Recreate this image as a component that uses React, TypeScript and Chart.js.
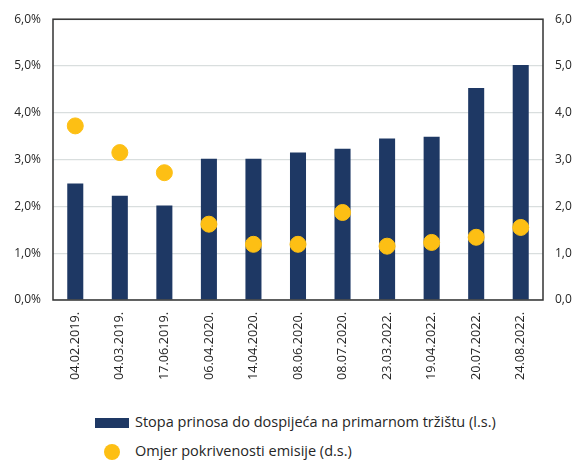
import React, { useEffect, useRef } from "react";
import { Chart, registerables } from "chart.js";

Chart.register(...registerables);

const categories = [
  "04.02.2019.", "04.03.2019.", "17.06.2019.", "06.04.2020.", "14.04.2020.",
  "08.06.2020.", "08.07.2020.", "23.03.2022.", "19.04.2022.", "20.07.2022.", "24.08.2022.",
];
const yieldRate = [2.49, 2.23, 2.02, 3.02, 3.02, 3.15, 3.23, 3.45, 3.49, 4.53, 5.02];
const coverage = [3.72, 3.15, 2.72, 1.62, 1.19, 1.19, 1.87, 1.15, 1.23, 1.34, 1.55];
const barLabel = "Stopa prinosa do dospijeća na primarnom tržištu (l.s.)";
const dotLabel = "Omjer pokrivenosti emisije (d.s.)";

const NAVY = "#1e3864";
const GOLD = "#fdbf14";
const TEXT = "#262626";
const FONT = "'Open Sans', 'Noto Sans', sans-serif";

const boxPlugin = {
  id: "box",
  afterDraw(chart: any) {
    const { ctx, chartArea: a } = chart;
    ctx.save();
    ctx.strokeStyle = "#333333";
    ctx.lineWidth = 1.5;
    ctx.strokeRect(a.left, a.top, a.right - a.left, a.bottom - a.top);
    ctx.restore();
  },
};

export default function App() {
  const ref = useRef<HTMLCanvasElement>(null);
  useEffect(() => {
    document.body.style.margin = "0";
    const chart = new Chart(ref.current!, {
      type: "bar",
      data: {
        labels: categories,
        datasets: [
          {
            type: "scatter" as any,
            label: dotLabel,
            data: coverage,
            yAxisID: "y1",
            backgroundColor: GOLD,
            borderColor: GOLD,
            pointRadius: 8,
            showLine: false,
            order: 0,
          } as any,
          {
            type: "bar",
            label: barLabel,
            data: yieldRate,
            yAxisID: "y",
            backgroundColor: NAVY,
            barPercentage: 0.36,
            categoryPercentage: 1,
            order: 1,
          },
        ],
      },
      options: {
        animation: false,
        responsive: false,
        layout: { padding: { top: 17, left: 0, right: 0, bottom: 0 } },
        plugins: { legend: { display: false }, tooltip: { enabled: false } },
        scales: {
          x: {
            type: "category",
            offset: true,
            grid: { display: false, drawTicks: false },
            border: { display: false },
            ticks: {
              minRotation: 90,
              maxRotation: 90,
              padding: 12,
              color: TEXT,
              font: { family: FONT, size: 12.7 },
            },
            afterFit(s: any) { s.height = 92; },
          },
          y: {
            position: "left",
            min: 0,
            max: 6,
            ticks: {
              stepSize: 1,
              padding: 12,
              color: TEXT,
              font: { family: FONT, size: 12 },
              callback: (v: any) => Number(v).toFixed(1).replace(".", ",") + "%",
            },
            grid: { color: "#d9dede", drawTicks: false, lineWidth: 1.2 },
            border: { display: false },
            afterFit(s: any) { s.width = 53; },
          },
          y1: {
            position: "right",
            min: 0,
            max: 6,
            ticks: {
              stepSize: 1,
              padding: 12,
              color: TEXT,
              font: { family: FONT, size: 12 },
              callback: (v: any) => Number(v).toFixed(1).replace(".", ","),
            },
            grid: { display: false, drawTicks: false },
            border: { display: false },
            afterFit(s: any) { s.width = 38; },
          },
        },
      } as any,
      plugins: [boxPlugin],
    });
    return () => chart.destroy();
  }, []);

  const textStyle: React.CSSProperties = {
    position: "absolute",
    left: 135,
    fontFamily: FONT,
    fontSize: 14.5,
    color: TEXT,
    whiteSpace: "nowrap",
    lineHeight: "16px",
  };

  return (
    <div style={{ position: "relative", width: 581, height: 461, background: "#fff" }}>
      <canvas ref={ref} width={581} height={392} style={{ position: "absolute", left: 0, top: 0 }} />
      <div style={{ position: "absolute", left: 95, top: 418, width: 34, height: 10, background: NAVY }} />
      <div style={{ ...textStyle, top: 414 }}>{barLabel}</div>
      <div style={{ position: "absolute", left: 104, top: 444, width: 16, height: 16, borderRadius: 8, background: GOLD }} />
      <div style={{ ...textStyle, top: 443 }}>{dotLabel}</div>
    </div>
  );
}
